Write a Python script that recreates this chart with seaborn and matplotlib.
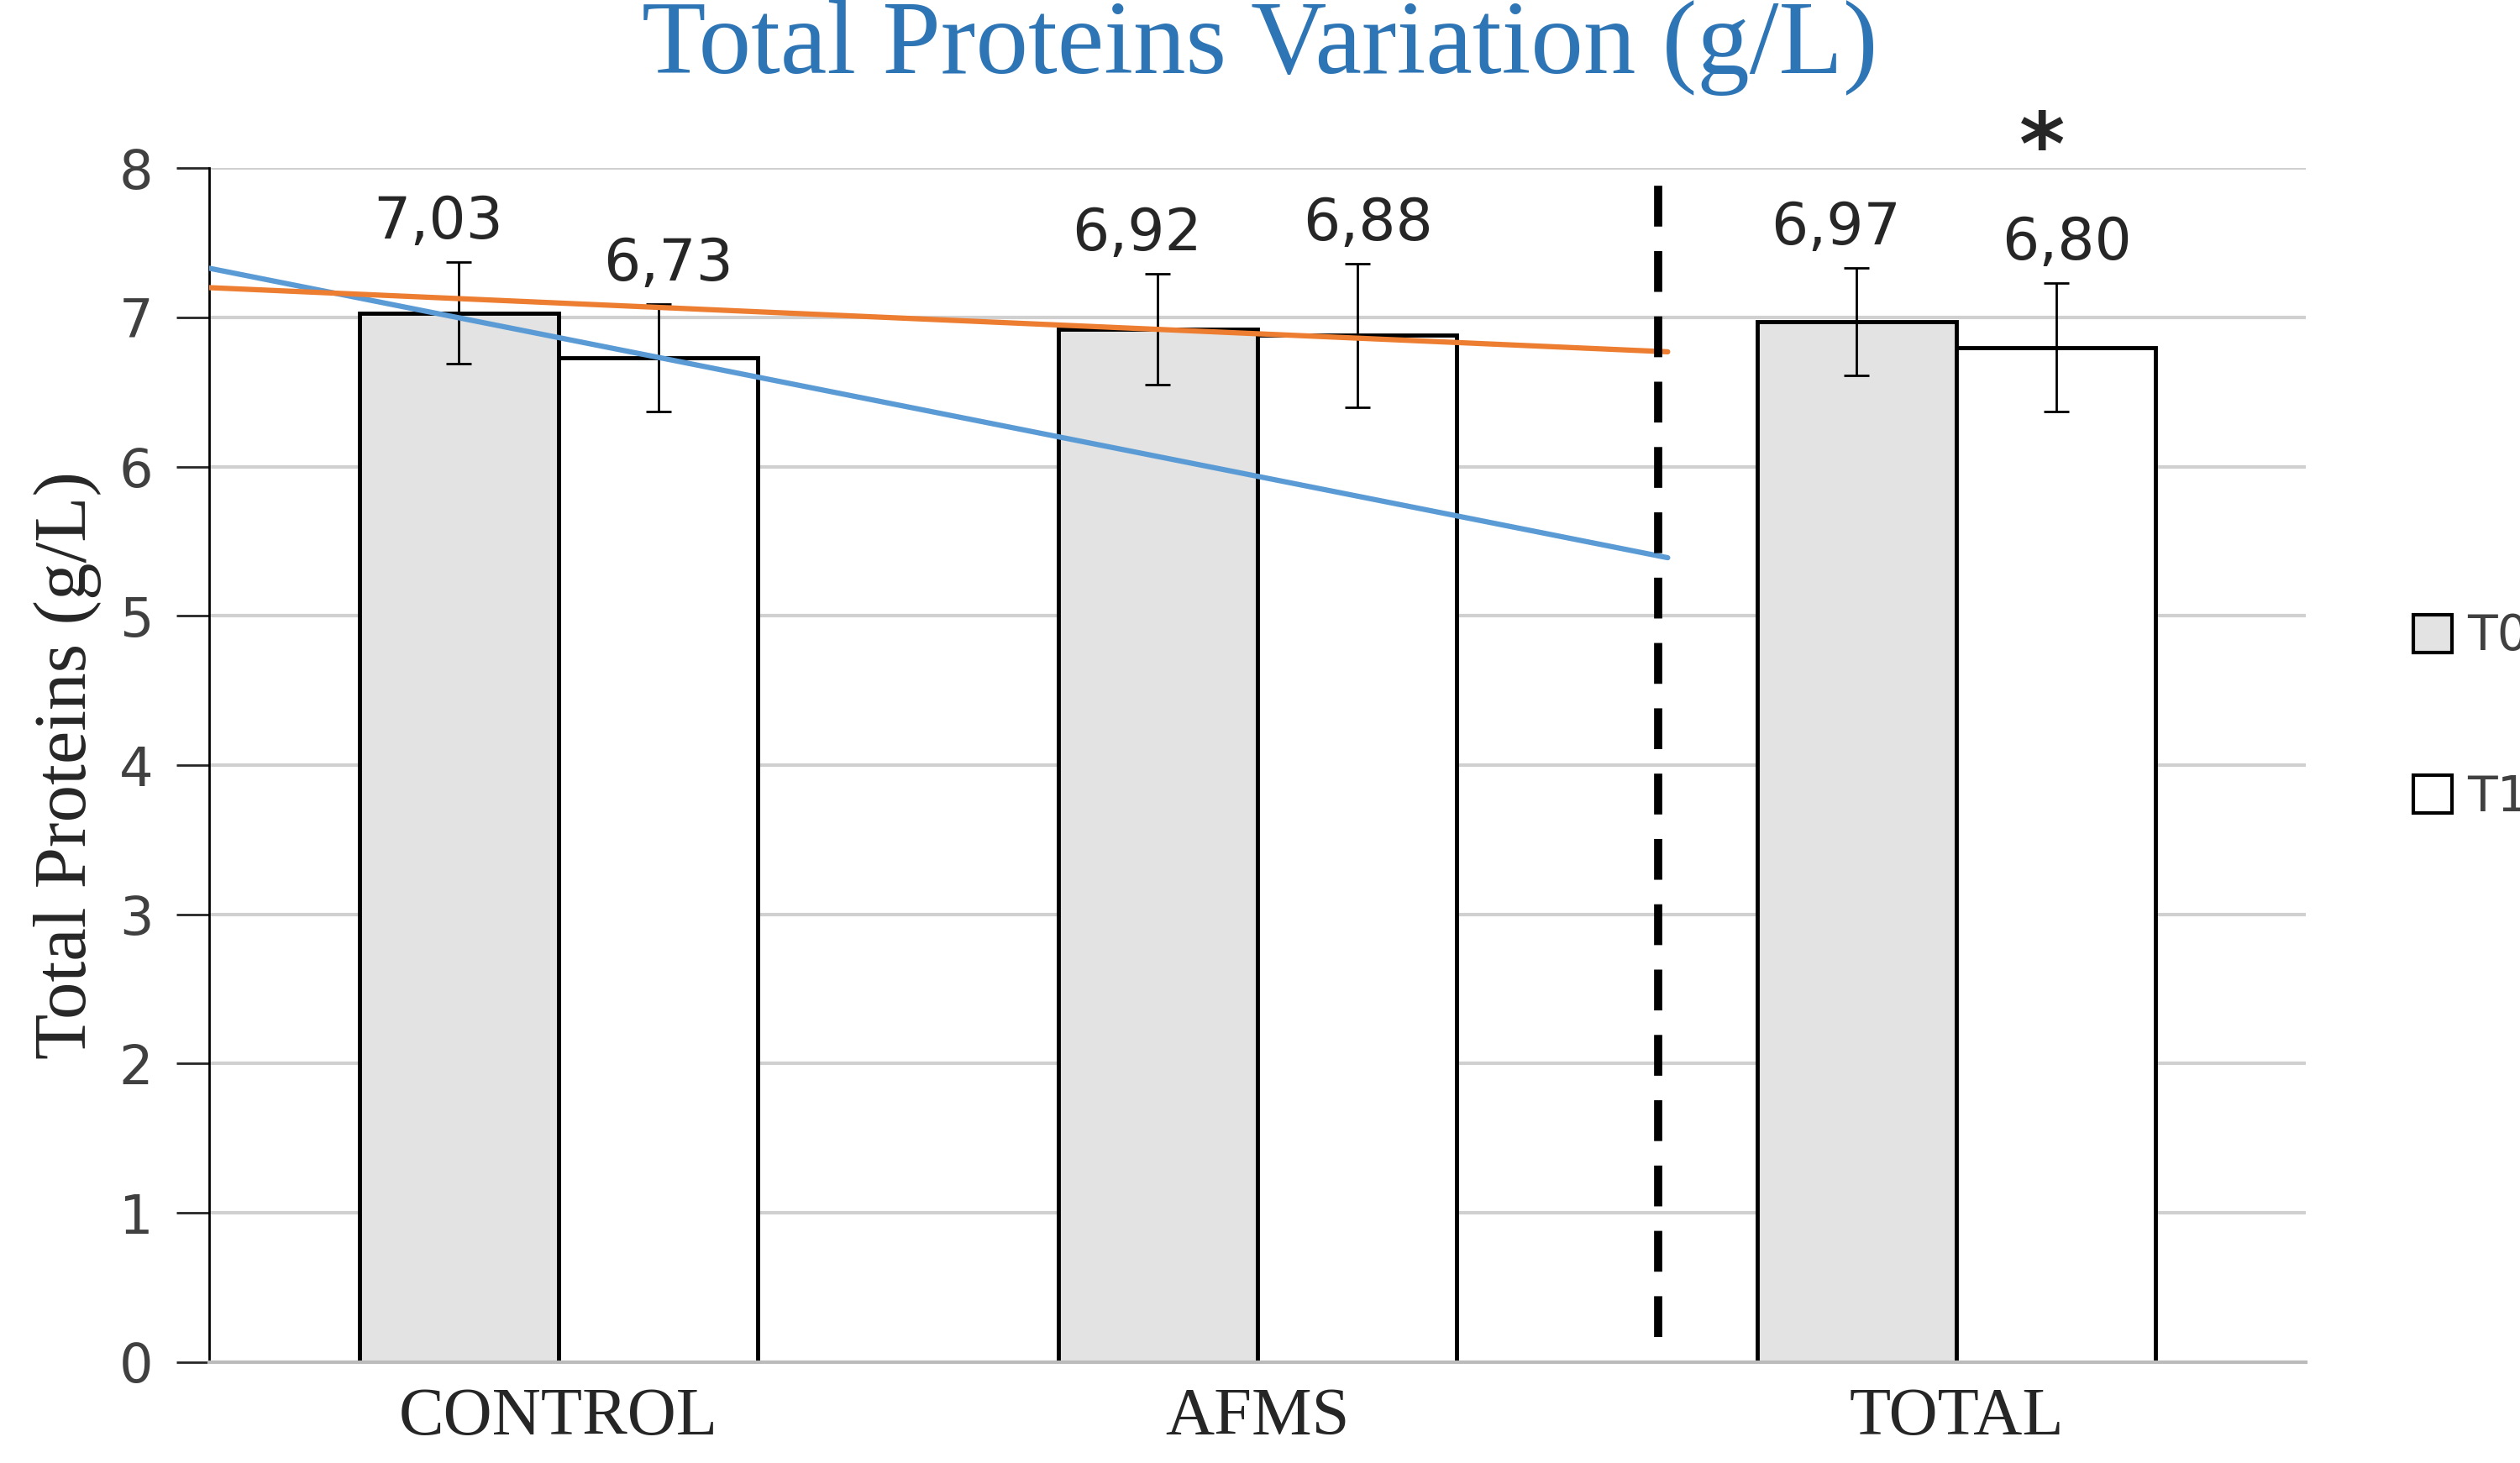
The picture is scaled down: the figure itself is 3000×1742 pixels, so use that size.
import matplotlib
matplotlib.use("Agg")
import matplotlib.pyplot as plt
import seaborn as sns
import pandas as pd
import numpy as np
from matplotlib.patches import Patch

categories = ["CONTROL", "AFMS", "TOTAL"]
t0_values = [7.03, 6.92, 6.97]
t1_values = [6.73, 6.88, 6.80]
t0_err = [0.34, 0.37, 0.36]
t1_err = [0.36, 0.48, 0.43]
labels_t0 = ["7,03", "6,92", "6,97"]
labels_t1 = ["6,73", "6,88", "6,80"]
blue_trend_y = [7.33, 5.39]
orange_trend_y = [7.20, 6.77]

sns.set_theme(style="white")
plt.rcParams['font.family'] = ['DejaVu Sans']

df = pd.DataFrame({"cat": categories * 2,
                   "val": t0_values + t1_values,
                   "series": ["T0"] * 3 + ["T1"] * 3})

fig = plt.figure(figsize=(30, 17.42), dpi=100)
ax = fig.add_axes([0.083, 0.069, 0.832, 0.816])
sns.barplot(data=df, x="cat", y="val", hue="series", palette={"T0": "#e3e3e3", "T1": "white"},
            edgecolor="black", linewidth=3.5, width=0.57, ax=ax, legend=False, errorbar=None, zorder=2)
w = 0.285
for i in range(3):
    for dx, v, e, lab in [(-w/2, t0_values[i], t0_err[i], labels_t0[i]), (w/2, t1_values[i], t1_err[i], labels_t1[i])]:
        ax.errorbar(i + dx, v, yerr=e, color="black", capsize=11, elinewidth=2, capthick=2, zorder=3)
        ax.text(i + dx - 0.03 if dx < 0 else i + dx + 0.015, v + e + 0.08, lab, ha="center", va="bottom",
                fontsize=50, family="DejaVu Sans", zorder=4)
ax.text(2 + w/2 - 0.02, 8.12, "*", ha="center", va="center", fontsize=75, fontweight="bold", clip_on=False)

xe = [-0.5, 1.587]
ax.plot(xe, blue_trend_y, color="#5b9bd5", lw=4.5, zorder=5)
ax.plot(xe, orange_trend_y, color="#ed7d31", lw=4.5, zorder=5)
ax.plot([1.573, 1.573], [0.17, 7.9], color="black", lw=7, ls=(0, (5, 3)), zorder=5)

ax.set_xlim(-0.5, 2.5)
ax.set_ylim(0, 8)
ax.set_yticks(range(9))
ax.yaxis.grid(True, color="#d0d0d0", lw=3, zorder=0)
ax.set_axisbelow(True)
for s in ["top", "right"]:
    ax.spines[s].set_visible(False)
ax.spines["left"].set_color("black"); ax.spines["left"].set_linewidth(2)
ax.spines["bottom"].set_color("#bbbbbb"); ax.spines["bottom"].set_linewidth(3)
ax.tick_params(axis="y", left=True, length=28, width=2, labelsize=46, labelcolor="#404040", pad=20, direction="out")
ax.tick_params(axis="x", length=0, pad=22)
ax.set_xticks(range(3))
ax.set_xticklabels(categories, family="Liberation Serif", fontsize=58)
ax.set_xlabel("")
ax.set_ylabel("Total Proteins (g/L)", family="Liberation Serif", fontsize=64, labelpad=15)
fig.suptitle("Total Proteins Variation (g/L)", y=1.0, va="top", color="#2e75b6",
             family="Liberation Serif", fontsize=90)

h = [Patch(facecolor="#e3e3e3", edgecolor="black", lw=3), Patch(facecolor="white", edgecolor="black", lw=3)]
fig.legend(h, ["T0", "T1"], loc="center left", bbox_to_anchor=(0.94, 0.51), frameon=False,
           fontsize=42, handlelength=0.8, handleheight=0.8, labelspacing=2.3, handletextpad=0.3,
           labelcolor="#404040")
fig.savefig("out.png", dpi=100)
